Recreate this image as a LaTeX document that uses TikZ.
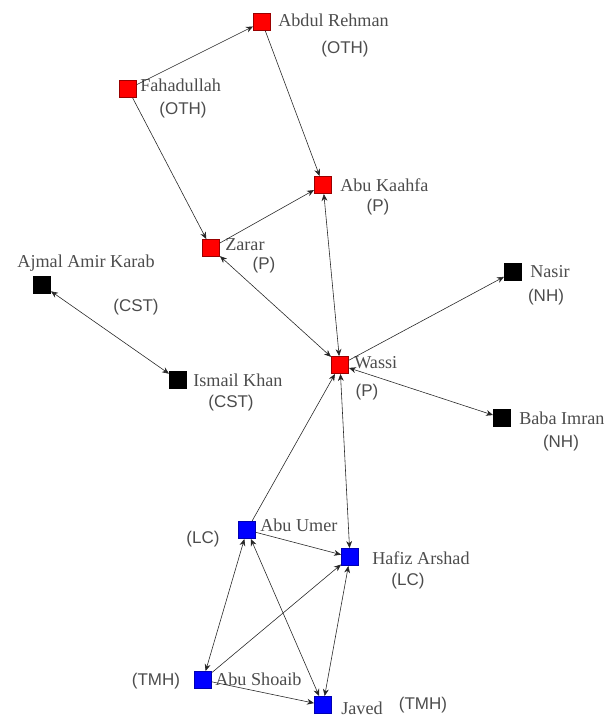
\documentclass[tikz,border=0pt]{standalone}
\usepackage{fontspec}
\setmainfont{Liberation Serif}
\setsansfont{Liberation Sans}
\usetikzlibrary{arrows.meta}

\begin{document}
\begin{tikzpicture}[x=0.03cm, y=-0.03cm, line width=0.5pt,
  member/.style={rectangle, draw, minimum size=0.52cm, inner sep=0pt},
  pgroup/.style={member, fill=red, draw=red!60!black},
  lgroup/.style={member, fill=blue, draw=blue!70!black},
  ngroup/.style={member, fill=black},
  who/.style={font=\fontsize{15.5}{17}\selectfont, text=black!70, inner sep=0pt, anchor=west},
  tag/.style={font=\sffamily\fontsize{14.5}{17}\selectfont, text=black!70, inner sep=0pt},
  link/.style={draw=black!85, -{Stealth[length=6pt,width=5pt]}},
  mutual/.style={draw=black!85, {Stealth[length=6pt,width=5pt]}-{Stealth[length=6pt,width=5pt]}}]
\useasboundingbox (0,0) rectangle (610,717);

\node [pgroup] (abd) at (262,22) {};
\node [pgroup] (fah) at (128,89) {};
\node [pgroup] (kaa) at (323,185) {};
\node [pgroup] (zar) at (211,248) {};
\node [ngroup] (ajm) at (42,285) {};
\node [ngroup] (ism) at (178,380) {};
\node [ngroup] (nas) at (513,272) {};
\node [pgroup] (was) at (340,365) {};
\node [ngroup] (bab) at (502,418) {};
\node [lgroup] (ume) at (247,530) {};
\node [lgroup] (haf) at (350,557) {};
\node [lgroup] (sho) at (203,680) {};
\node [lgroup] (jav) at (323,705) {};

% names and groups
\node [who] (abd-n) at (278,20) {Abdul Rehman};
\node [tag] (abd-g) at (345,49) {(OTH)};
\node [who] (fah-n) at (140,85) {Fahadullah};
\node [tag] (fah-g) at (183,110) {(OTH)};
\node [who] (kaa-n) at (340,185) {Abu Kaahfa};
\node [tag] (kaa-g) at (378,207) {(P)};
\node [who] (zar-n) at (225,245) {Zarar};
\node [tag] (zar-g) at (264,265) {(P)};
\node [who, anchor=center] (ajm-n) at (86,263) {Ajmal Amir Karab};
\node [tag] (ajm-g) at (136,307) {(CST)};
\node [who] (ism-n) at (193,380) {Ismail Khan};
\node [tag] (ism-g) at (231,403) {(CST)};
\node [who] (nas-n) at (530,272) {Nasir};
\node [tag] (nas-g) at (546,297) {(NH)};
\node [who] (was-n) at (354,363) {Wassi};
\node [tag] (was-g) at (367,392) {(P)};
\node [who] (bab-n) at (519,418) {Baba Imran};
\node [tag] (bab-g) at (561,443) {(NH)};
\node [who] (ume-n) at (260,525) {Abu Umer};
\node [tag] (ume-g) at (203,539) {(LC)};
\node [who] (haf-n) at (372,558) {Hafiz Arshad};
\node [tag] (haf-g) at (408,581) {(LC)};
\node [who] (sho-n) at (215,679) {Abu Shoaib};
\node [tag] (sho-g) at (156,681) {(TMH)};
\node [who] (jav-n) at (341,708) {Javed};
\node [tag] (jav-g) at (423,705) {(TMH)};

\draw[link] (fah) -- (abd);
\draw[link] (fah) -- (zar);
\draw[link] (abd) -- (kaa);
\draw[link] (zar) -- (kaa);
\draw[mutual] (zar) -- (was);
\draw[mutual] (kaa) -- (was);
\draw[mutual] (ajm) -- (ism);
\draw[link] (was) -- (nas);
\draw[mutual] (bab) -- (was);
\draw[link] (ume) -- (was);
\draw[mutual] (was) -- (haf);
\draw[link] (ume) -- (haf);
\draw[mutual] (ume) -- (sho);
\draw[mutual] (ume) -- (jav);
\draw[link] (sho) -- (haf);
\draw[mutual] (haf) -- (jav);
\draw[link] (sho) -- (jav);
\end{tikzpicture}
\end{document}
